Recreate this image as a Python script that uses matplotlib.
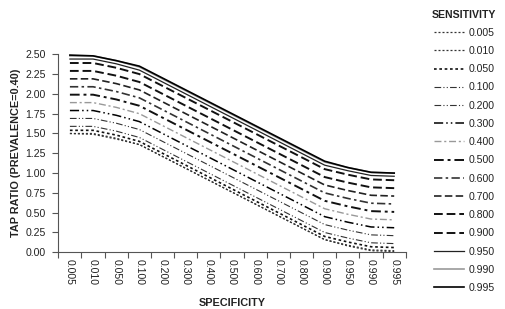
import numpy as np
import matplotlib
matplotlib.use("Agg")
import matplotlib.pyplot as plt

plt.rcParams['font.family'] = ['Liberation Sans', 'DejaVu Sans']

specificity = ['0.005', '0.010', '0.050', '0.100', '0.200', '0.300', '0.400', '0.500',
               '0.600', '0.700', '0.800', '0.900', '0.950', '0.990', '0.995']
sensitivity = ['0.005', '0.010', '0.050', '0.100', '0.200', '0.300', '0.400', '0.500',
               '0.600', '0.700', '0.800', '0.900', '0.950', '0.990', '0.995']

# tap ratio for each sensitivity, read along the specificity categories
tap_0005 = [1.50, 1.49, 1.43, 1.36, 1.21, 1.06, 0.91, 0.76, 0.61, 0.46, 0.31, 0.16, 0.08, 0.02, 0.01]
tap_0010 = [1.50, 1.50, 1.44, 1.36, 1.21, 1.06, 0.91, 0.76, 0.61, 0.46, 0.31, 0.16, 0.09, 0.03, 0.02]
tap_0050 = [1.54, 1.54, 1.48, 1.40, 1.25, 1.10, 0.95, 0.80, 0.65, 0.50, 0.35, 0.20, 0.13, 0.07, 0.06]
tap_0100 = [1.59, 1.59, 1.53, 1.45, 1.30, 1.15, 1.00, 0.85, 0.70, 0.55, 0.40, 0.25, 0.18, 0.12, 0.11]
tap_0200 = [1.69, 1.69, 1.63, 1.55, 1.40, 1.25, 1.10, 0.95, 0.80, 0.65, 0.50, 0.35, 0.28, 0.22, 0.21]
tap_0300 = [1.79, 1.79, 1.73, 1.65, 1.50, 1.35, 1.20, 1.05, 0.90, 0.75, 0.60, 0.45, 0.38, 0.32, 0.31]
tap_0400 = [1.89, 1.89, 1.83, 1.75, 1.60, 1.45, 1.30, 1.15, 1.00, 0.85, 0.70, 0.55, 0.48, 0.42, 0.41]
tap_0500 = [1.99, 1.99, 1.93, 1.85, 1.70, 1.55, 1.40, 1.25, 1.10, 0.95, 0.80, 0.65, 0.58, 0.52, 0.51]
tap_0600 = [2.09, 2.09, 2.03, 1.95, 1.80, 1.65, 1.50, 1.35, 1.20, 1.05, 0.90, 0.75, 0.68, 0.62, 0.61]
tap_0700 = [2.19, 2.19, 2.13, 2.05, 1.90, 1.75, 1.60, 1.45, 1.30, 1.15, 1.00, 0.85, 0.78, 0.72, 0.71]
tap_0800 = [2.29, 2.29, 2.23, 2.15, 2.00, 1.85, 1.70, 1.55, 1.40, 1.25, 1.10, 0.95, 0.88, 0.82, 0.81]
tap_0900 = [2.39, 2.39, 2.33, 2.25, 2.10, 1.95, 1.80, 1.65, 1.50, 1.35, 1.20, 1.05, 0.98, 0.92, 0.91]
tap_0950 = [2.44, 2.44, 2.38, 2.30, 2.15, 2.00, 1.85, 1.70, 1.55, 1.40, 1.25, 1.10, 1.03, 0.97, 0.96]
tap_0990 = [2.48, 2.48, 2.42, 2.34, 2.19, 2.04, 1.89, 1.74, 1.59, 1.44, 1.29, 1.14, 1.07, 1.01, 1.00]
tap_0995 = [2.49, 2.48, 2.42, 2.35, 2.20, 2.05, 1.90, 1.75, 1.60, 1.45, 1.30, 1.15, 1.07, 1.01, 1.00]

series = [tap_0005, tap_0010, tap_0050, tap_0100, tap_0200, tap_0300, tap_0400, tap_0500,
          tap_0600, tap_0700, tap_0800, tap_0900, tap_0950, tap_0990, tap_0995]

# (color, linewidth, dash pattern)
dots = (0, (1.6, 1.6))
dashdotdot = (0, (6, 2, 1, 2, 1, 2))
dashdot = (0, (5, 2, 1.5, 2))
dashes = (0, (4.5, 2))
styles = [
    ('#333333', 0.9, dots),
    ('#333333', 0.9, dots),
    ('#111111', 1.2, dots),
    ('#333333', 0.8, dashdotdot),
    ('#333333', 0.8, dashdotdot),
    ('#000000', 1.1, dashdotdot),
    ('#999999', 1.0, dashdot),
    ('#111111', 1.4, dashdot),
    ('#333333', 1.2, dashdot),
    ('#222222', 1.2, dashes),
    ('#111111', 1.4, dashes),
    ('#111111', 1.4, dashes),
    ('#222222', 0.9, '-'),
    ('#999999', 1.2, '-'),
    ('#000000', 1.2, '-'),
]

fig = plt.figure(figsize=(5.05, 3.09), dpi=100)
ax = fig.add_axes([0.1155, 0.1835, 0.688, 0.6408])

x = np.arange(len(specificity))
for vals, lab, (c, lw, ls) in zip(series, sensitivity, styles):
    ax.plot(x, vals, color=c, lw=lw, linestyle=ls, label=lab)

ax.set_xlim(-0.5, len(specificity) - 0.5)
ax.set_ylim(0, 2.5)
ax.set_yticks(np.arange(0, 2.51, 0.25))
ax.set_yticklabels([f'{v:.2f}' for v in np.arange(0, 2.51, 0.25)])

ax.set_xticks(np.arange(-0.5, len(specificity)), labels=[])
ax.set_xticks(x, labels=specificity, minor=True, rotation=270)
ax.tick_params(axis='x', which='minor', length=0, pad=5)
ax.tick_params(axis='both', which='major', length=4, width=0.8, color='#555555',
               labelsize=7.6, labelcolor='#222222')
ax.tick_params(axis='y', pad=5)
ax.tick_params(axis='x', which='minor', labelsize=7.6, labelcolor='#222222')
for t in ax.get_xticklabels(minor=True):
    t.set_va('top')
    t.set_ha('center')

for s in ['top', 'right']:
    ax.spines[s].set_visible(False)
for s in ['left', 'bottom']:
    ax.spines[s].set_color('#555555')
    ax.spines[s].set_linewidth(0.8)

ax.set_xlabel('SPECIFICITY', fontsize=7.8, fontweight='bold', color='#222222', labelpad=9)
ax.set_ylabel('TAP RATIO (PREVALENCE=0.40)', fontsize=7.8, fontweight='bold',
              color='#222222', labelpad=3)

leg = ax.legend(loc='upper left', bbox_to_anchor=(1.076, 1.226), frameon=False,
                fontsize=7.6, title='SENSITIVITY', handlelength=2.9, handletextpad=0.4,
                labelspacing=0.78, borderaxespad=0, borderpad=0)
leg.get_title().set_fontweight('bold')
leg.get_title().set_fontsize(7.6)
leg.get_title().set_color('#222222')
for t in leg.get_texts():
    t.set_color('#222222')

fig.savefig('out.png', dpi=100)
